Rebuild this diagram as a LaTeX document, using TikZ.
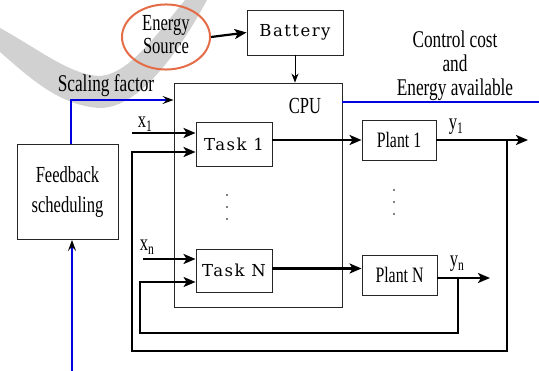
\documentclass[tikz,border=0pt]{standalone}
\usepackage{fontspec}
\usepackage{graphicx}
\setmainfont{Liberation Serif}
\newfontfamily\taskfont[LetterSpace=9]{DejaVu Serif}
\usetikzlibrary{arrows.meta,shapes.geometric}
\newcommand{\sq}[1]{\scalebox{0.72}[1]{#1}}
\newcommand{\sqlines}[1]{\scalebox{0.72}[1]{\begin{tabular}{@{}c@{}}#1\end{tabular}}}
\definecolor{eorange}{RGB}{228,108,70}
\definecolor{lblue}{RGB}{0,0,225}
\begin{document}
\begin{tikzpicture}[x=1pt,y=-1pt,
  box/.style={draw=black!85,line width=0.9pt,inner sep=0pt},
  lab/.style={inner sep=0pt,font=\fontsize{24}{24}\selectfont},
  tasklab/.style={font=\taskfont\fontsize{16.5}{18}\selectfont},
  thickarrow/.style={line width=2.2pt,-{Stealth[length=12pt,width=10pt,inset=3pt]}},
  thinarrow/.style={line width=1pt,-{Stealth[length=9pt,width=7pt,inset=3pt]}},
  bluearrow/.style={draw=lblue,line width=1.6pt,-{Stealth[black,length=11pt,width=8pt,inset=4pt]}},
]
\useasboundingbox (0,0) rectangle (539,371);
% watermark swoosh
\fill[black!18] (0,28) .. controls (40,50) and (70,75) .. (100,76)
  .. controls (130,74) and (160,30) .. (185,0) -- (207,0)
  .. controls (180,50) and (140,108) .. (100,108)
  .. controls (60,106) and (30,78) .. (0,52) -- cycle;

% nodes
\node[ellipse,draw=eorange,line width=2pt,minimum width=88pt,minimum height=62pt,inner sep=0pt,
  font=\fontsize{23}{23}\selectfont] (energy) at (166,37) {\sqlines{Energy\\Source}};
\node[box,minimum width=96pt,minimum height=45pt,tasklab] (battery) at (295,32.5) {Battery};
\node[box,minimum width=168pt,minimum height=224pt] (cpu) at (258,195) {};
\node[lab,font=\fontsize{23}{23}\selectfont] (cpulab) at (305,106) {\sq{CPU}};
\node[box,minimum width=101pt,minimum height=95pt,font=\fontsize{23}{30}\selectfont] (fbs) at (67.5,192) {\sqlines{Feedback\\scheduling}};
\node[box,minimum width=76pt,minimum height=44pt,tasklab] (task1) at (234,144) {Task 1};
\node[box,minimum width=76pt,minimum height=43pt,tasklab] (taskN) at (234,270.5) {Task N};
\node[box,minimum width=74pt,minimum height=40pt,lab,font=\fontsize{22}{22}\selectfont] (plant1) at (399,140) {\sq{Plant 1}};
\node[box,minimum width=75pt,minimum height=40pt,lab,font=\fontsize{22}{22}\selectfont] (plantN) at (399.5,275) {\sq{Plant N}};

% labels
\node[lab] (sflab) at (106,86) {\sq{Scaling factor}};
\node[lab] (cclab) at (455,67) {\sqlines{Control cost\\and\\Energy available}};
\node[lab,font=\fontsize{23}{23}\selectfont] (x1lab) at (145,124) {\sq{x\textsubscript{1}}};
\node[lab,font=\fontsize{23}{23}\selectfont] (xnlab) at (147,247) {\sq{x\textsubscript{n}}};
\node[lab,font=\fontsize{23}{23}\selectfont] (y1lab) at (456,127) {\sq{y\textsubscript{1}}};
\node[lab,font=\fontsize{23}{23}\selectfont] (ynlab) at (457,264) {\sq{y\textsubscript{n}}};

% dots
\foreach \yy in {195,207,219} \fill (227,\yy) circle (0.9);
\foreach \yy in {190,202,214} \fill (394,\yy) circle (0.9);

% coordinates
\coordinate (sf) at (71,100);
\coordinate (fbin) at (72,371);
\coordinate (cc) at (539,102);
\coordinate (x1s) at (132,133);
\coordinate (xns) at (143,259);
\coordinate (b1) at (507,140);
\coordinate (y1end) at (528,140);
\coordinate (o1) at (507,351);
\coordinate (o2) at (132,351);
\coordinate (o3) at (132,152);
\coordinate (bn) at (458,278);
\coordinate (ynend) at (490,278);
\coordinate (i1) at (458,333);
\coordinate (i2) at (140,333);
\coordinate (i3) at (140,282);

% connectors
\draw[thickarrow] (energy.east) -- (battery.west);
\draw[thinarrow] (battery) -- (battery |- cpu.north);
\draw[bluearrow] (sf |- fbs.north) -- (sf) -- (sf -| cpu.west);
\draw[bluearrow] (fbin) -- (fbin |- fbs.south);
\draw[draw=lblue,line width=2pt] (cc -| cpu.east) -- (cc);
\draw[thickarrow] (x1s) -- (x1s -| task1.west);
\draw[thickarrow] (xns) -- (xns -| taskN.west);
\draw[thickarrow] (task1.east |- plant1.west) -- (plant1.west);
\draw[thickarrow] ([yshift=2pt]taskN.east) -- ([yshift=2pt]taskN.east -| plantN.west);
\draw[thickarrow] (plant1.east) -- (y1end);
\draw[thickarrow] (plantN.east |- bn) -- (ynend);
\draw[thickarrow] (b1) -- (o1) -- (o2) -- (o3) -- (o3 -| task1.west);
\draw[line width=2pt,-{Stealth[length=12pt,width=10pt,inset=3pt]}] (bn) -- (i1) -- (i2) -- (i3) -- (i3 -| taskN.west);
\end{tikzpicture}
\end{document}
